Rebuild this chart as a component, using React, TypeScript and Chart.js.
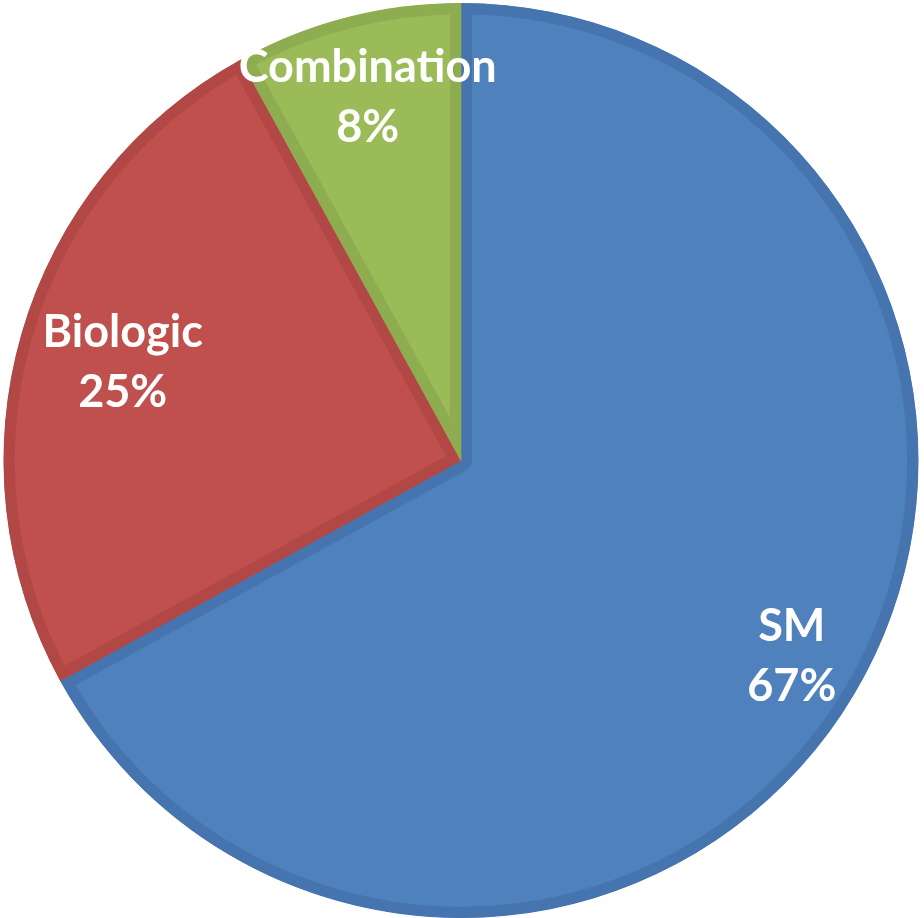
import React, { useEffect, useRef } from "react";
import { Chart, registerables } from "chart.js";

Chart.register(...registerables);

const categories = ["SM", "Biologic", "Combination"];
const values = [67, 25, 8];
const percentLabels = ["67%", "25%", "8%"];
const fillColors = ["#4F81BD", "#C0504D", "#9BBB59"];
const edgeColors = ["#4674AE", "#B24845", "#8DAD50"];
const labelRadius = [0.84, 0.77, 0.82];

const labelPlugin = {
  id: "sliceLabels",
  afterDatasetsDraw(chart: any) {
    const ctx = chart.ctx;
    const meta = chart.getDatasetMeta(0);
    ctx.save();
    ctx.fillStyle = "#FFFFFF";
    ctx.font = "bold 45px Lato, 'Open Sans', sans-serif";
    ctx.textAlign = "center";
    ctx.textBaseline = "middle";
    meta.data.forEach((arc: any, i: number) => {
      const p = arc.getProps(["x", "y", "startAngle", "endAngle", "outerRadius"], true);
      const mid = (p.startAngle + p.endAngle) / 2;
      const r = p.outerRadius * labelRadius[i];
      const x = p.x + Math.cos(mid) * r;
      const y = p.y + Math.sin(mid) * r;
      ctx.fillText(categories[i], x, y - 30);
      ctx.fillText(percentLabels[i], x, y + 30);
    });
    ctx.restore();
  },
};

export default function App() {
  const ref = useRef<HTMLCanvasElement | null>(null);
  useEffect(() => {
    if (!ref.current) return;
    const chart = new Chart(ref.current, {
      type: "pie",
      data: {
        labels: categories,
        datasets: [
          {
            data: values,
            backgroundColor: fillColors,
            borderColor: edgeColors,
            borderWidth: 11,
            borderAlign: "inner",
          },
        ],
      },
      options: {
        animation: false,
        responsive: false,
        layout: { padding: { top: 3, bottom: 0, left: 0, right: 2 } },
        plugins: {
          legend: { display: false },
          tooltip: { enabled: false },
        },
      },
      plugins: [labelPlugin],
    });
    return () => chart.destroy();
  }, []);
  return (
    <div style={{ position: "fixed", left: 0, top: 0, width: 924, height: 918, background: "#fff" }}>
      <canvas ref={ref} width={924} height={918} style={{ width: 924, height: 918 }} />
    </div>
  );
}
